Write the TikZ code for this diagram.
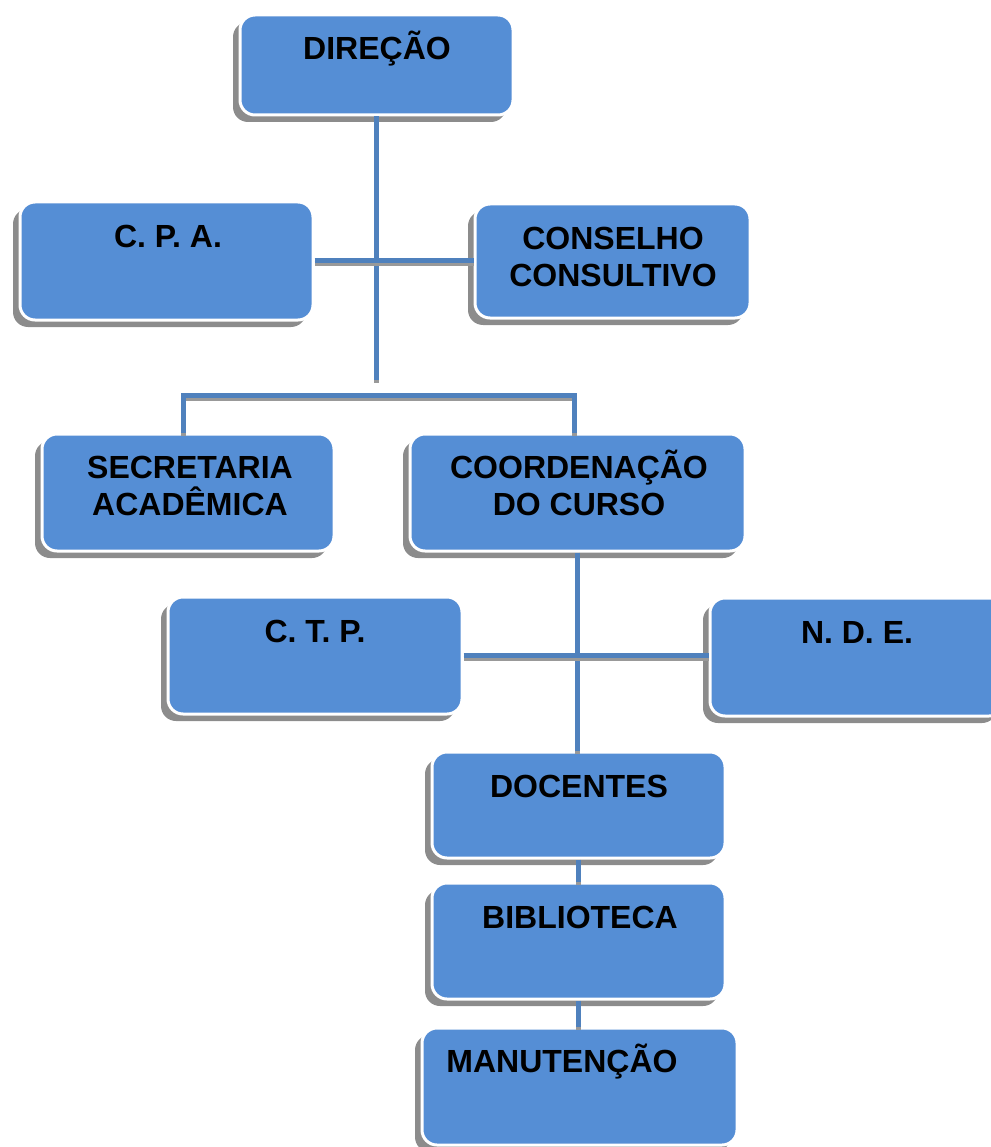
\documentclass[tikz,border=0pt]{standalone}
\usepackage{fontspec}
\setmainfont{Liberation Sans}
\usetikzlibrary{shadows,calc}
\definecolor{boxblue}{HTML}{558ED5}
\definecolor{lineblue}{HTML}{4F81BD}
\tikzset{
  box/.style={rectangle, rounded corners=15pt, fill=boxblue, draw=white, line width=3pt,
    drop shadow={shadow xshift=-7pt, shadow yshift=-7pt, fill=black!45, opacity=1}},
  lbl/.style={inner sep=0pt, anchor=base, align=center, font=\fontsize{32}{37}\selectfont\bfseries},
  conn/.style={line width=5pt, draw=lineblue,
    preaction={draw=black!40, line width=5pt, transform canvas={yshift=-3pt}}}
}
\begin{document}
\begin{tikzpicture}[x=1pt,y=-1pt]
\useasboundingbox (0,0) rectangle (990,1147);
% boxes
\node[box, minimum width=273pt, minimum height=100pt] (dir) at (376.5,65) {};
\node[box, minimum width=293pt, minimum height=118pt] (cpa) at (166.5,261) {};
\node[box, minimum width=275pt, minimum height=114pt] (cons) at (612.5,261) {};
\node[box, minimum width=292pt, minimum height=117pt] (sec) at (188,492.5) {};
\node[box, minimum width=335pt, minimum height=117pt] (coord) at (577.5,492.5) {};
\node[box, minimum width=294pt, minimum height=117pt] (ctp) at (315,655.5) {};
\node[box, minimum width=294pt, minimum height=118pt] (nde) at (857,657) {};
\node[box, minimum width=293pt, minimum height=106pt] (doc) at (578.5,805) {};
\node[box, minimum width=293pt, minimum height=116pt] (bib) at (578.5,941) {};
\node[box, minimum width=315pt, minimum height=117pt] (man) at (579.5,1086.5) {};
% labels
\node[lbl] (tdir) at (377,60) {DIREÇÃO};
\node[lbl] (tcpa) at (168,248) {C. P. A.};
\node[lbl] (tcons) at (613,287) {CONSELHO\\CONSULTIVO};
\node[lbl] (tsec) at (190,515) {SECRETARIA\\ACADÊMICA};
\node[lbl] (tcoord) at (579,515) {COORDENAÇÃO\\DO CURSO};
\node[lbl] (tctp) at (315,642) {C. T. P.};
\node[lbl] (tnde) at (857,643) {N. D. E.};
\node[lbl] (tdoc) at (579,797) {DOCENTES};
\node[lbl] (tbib) at (580,928) {BIBLIOTECA};
\node[lbl] (tman) at (562,1072) {MANUTENÇÃO};
% connectors
\path (dir.south) ++(0,263) coordinate (dirend);
\draw[conn] (dir.south) -- (dirend);
\draw[conn] (cpa.east) -- (cons.west);
\draw[conn] ([xshift=-5pt]sec.north) -- ++(0,-37) -| ([xshift=-3pt]coord.north);
\draw[conn] (coord.south) -- (coord.south |- doc.north);
\draw[conn] (ctp.east) -- (ctp.east -| nde.west);
\draw[conn] (doc.south) -- (doc.south |- bib.north);
\draw[conn] (bib.south) -- (bib.south |- man.north);
\end{tikzpicture}
\end{document}
